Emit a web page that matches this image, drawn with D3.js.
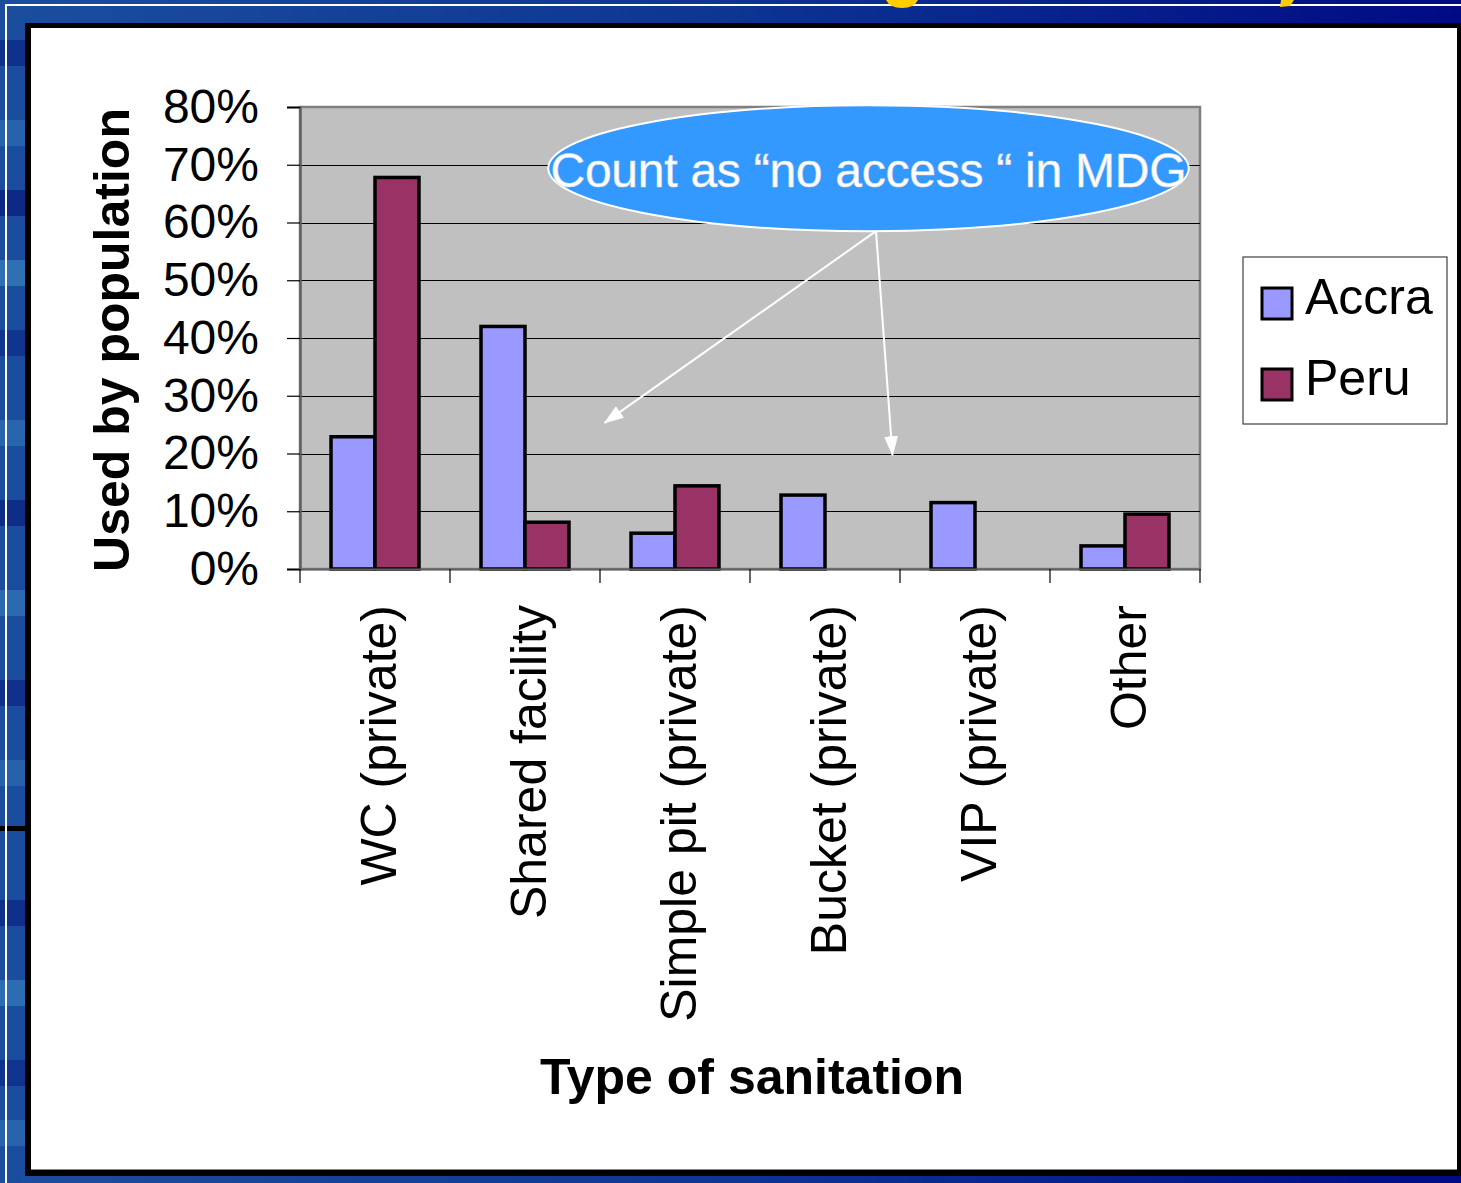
<!DOCTYPE html>
<html>
<head>
<meta charset="utf-8">
<script src="https://cdn.jsdelivr.net/npm/d3@7"></script>
<style>
  body { margin: 0; overflow: hidden; background: #0b2f8f; }
  text { font-family: "Liberation Sans", Arial, sans-serif; }
</style>
</head>
<body>
<script>
// data
var categories = ["WC (private)", "Shared facility", "Simple pit (private)", "Bucket (private)", "VIP (private)", "Other"];
var seriesNames = ["Accra", "Peru"];
var seriesColors = ["#9999FF", "#993366"];
var accra = [0.229, 0.42, 0.062, 0.128, 0.115, 0.04];
var peru = [0.678, 0.081, 0.144, 0, 0, 0.095];
var yTicks = [0, 0.1, 0.2, 0.3, 0.4, 0.5, 0.6, 0.7, 0.8];
var noteText = "Count as \u201Cno access \u201C in MDG";

var W = 1461, H = 1183;
var svg = d3.select(document.body).append("svg").attr("width", W).attr("height", H);

// background (slide)
var defs = svg.append("defs");
var bg = defs.append("linearGradient").attr("id", "bg").attr("x1", 0).attr("x2", 1).attr("y1", 0).attr("y2", 0);
bg.append("stop").attr("offset", 0).attr("stop-color", "#1b4d9e");
bg.append("stop").attr("offset", 0.5).attr("stop-color", "#0d3592");
bg.append("stop").attr("offset", 1).attr("stop-color", "#000a84");
svg.append("rect").attr("width", W).attr("height", H).attr("fill", "url(#bg)");

// streaks on the left strip
var streaks = [[40, "#0b2a8a"], [120, "#2a68b0"], [190, "#08207e"], [260, "#3379b8"], [330, "#0e2f8c"],
  [420, "#2c6cb2"], [500, "#0a2582"], [590, "#2f72b5"], [680, "#0c2b88"], [760, "#2a66ae"],
  [900, "#0b2986"], [980, "#3174b6"], [1060, "#0d2d8a"], [1120, "#2a6ab0"]];
svg.selectAll("rect.streak").data(streaks).enter().append("rect")
  .attr("class", "streak").attr("x", 0).attr("width", 25)
  .attr("y", function(d) { return d[0]; }).attr("height", 26)
  .attr("fill", function(d) { return d[1]; }).attr("opacity", 0.8);
svg.append("rect").attr("x", 0).attr("y", 826).attr("width", 25).attr("height", 5).attr("fill", "#000");

// thin white line of the slide
svg.append("rect").attr("x", 5).attr("y", 4).attr("width", W).attr("height", 2).attr("fill", "#fff");
svg.append("rect").attr("x", 5).attr("y", 4).attr("width", 2).attr("height", H).attr("fill", "#fff");

// bits of the cut off yellow title
svg.append("path").attr("d", "M886,0 Q890,8 902,8 Q914,8 918,0 Z").attr("fill", "#FFCC00");
svg.append("path").attr("d", "M1281,0 L1294,0 L1290,6 L1280,7 Z").attr("fill", "#FFCC00");

// white panel with black frame
svg.append("rect").attr("x", 25).attr("y", 23).attr("width", W - 25).attr("height", 1153).attr("fill", "#000");
svg.append("rect").attr("x", 31).attr("y", 28).attr("width", 1426).attr("height", 1141).attr("fill", "#fff");
svg.append("line").attr("x1", 31).attr("x2", 1457).attr("y1", 1169.5).attr("y2", 1169.5).attr("stroke", "#888").attr("stroke-width", 1);

// chart
var plotL = 300, plotR = 1200, plotT = 107, plotB = 569;

var x = d3.scaleBand().domain(categories).range([plotL, plotR]).paddingInner(0).paddingOuter(0);
var x1 = d3.scaleBand().domain(seriesNames).range([0, x.bandwidth()]).paddingInner(0).paddingOuter(0.705);
var y = d3.scaleLinear().domain([0, 0.8]).range([plotB, plotT]);
var xi = d3.scaleLinear().domain([0, categories.length]).range([plotL, plotR]);

// plot area
svg.append("rect").attr("x", plotL).attr("y", plotT).attr("width", plotR - plotL).attr("height", plotB - plotT)
  .attr("fill", "#C0C0C0").attr("stroke", "#808080").attr("stroke-width", 2.5);

// gridlines
svg.append("g").selectAll("line").data(yTicks.filter(function(d) { return d > 0 && d < 0.8; }))
  .enter().append("line")
  .attr("x1", plotL).attr("x2", plotR)
  .attr("y1", function(d) { return Math.round(y(d)) + 0.5; })
  .attr("y2", function(d) { return Math.round(y(d)) + 0.5; })
  .attr("stroke", "#000").attr("stroke-width", 1.2);

// bars
var rows = categories.map(function(c, i) { return { cat: c, values: [accra[i], peru[i]] }; });
var groups = svg.append("g").selectAll("g").data(rows).enter().append("g")
  .attr("transform", function(d) { return "translate(" + x(d.cat) + ",0)"; });
groups.selectAll("rect").data(function(d) {
    return d.values.map(function(v, j) { return { name: seriesNames[j], value: v, color: seriesColors[j] }; })
      .filter(function(e) { return e.value > 0; });
  })
  .enter().append("rect")
  .attr("x", function(d) { return x1(d.name); })
  .attr("width", x1.bandwidth())
  .attr("y", function(d) { return y(d.value); })
  .attr("height", function(d) { return y(0) - y(d.value); })
  .attr("fill", function(d) { return d.color; })
  .attr("stroke", "#000").attr("stroke-width", 3.5);

// y axis
var yAxis = svg.append("g").attr("transform", "translate(" + plotL + ",0)")
  .call(d3.axisLeft(y).tickValues(yTicks).tickFormat(d3.format(".0%")).tickSize(13).tickPadding(28));
yAxis.select(".domain").attr("stroke", "#606060").attr("stroke-width", 2.5);
yAxis.selectAll(".tick line").attr("stroke", "#000").attr("stroke-width", 1.2);
yAxis.selectAll("text").attr("font-size", 48).attr("fill", "#000")
  .style("font-family", "'Liberation Sans', Arial, sans-serif");

// x axis
var xAxis = svg.append("g").attr("transform", "translate(0," + plotB + ")")
  .call(d3.axisBottom(x).tickSize(0));
xAxis.select(".domain").attr("stroke", "#606060").attr("stroke-width", 2);
xAxis.selectAll("text")
  .attr("transform", "rotate(-90)")
  .attr("x", -36).attr("y", 3).attr("dy", "0.36em")
  .attr("text-anchor", "end")
  .attr("font-size", 50).attr("fill", "#000")
  .style("font-family", "'Liberation Sans', Arial, sans-serif");
var bounds = categories.map(function(c) { return x(c); }).concat([plotR]);
svg.append("g").selectAll("line").data(bounds).enter().append("line")
  .attr("x1", function(d) { return d; }).attr("x2", function(d) { return d; })
  .attr("y1", plotB).attr("y2", plotB + 14)
  .attr("stroke", "#000").attr("stroke-width", 1.2);

// axis titles
svg.append("text").attr("x", 752).attr("y", 1094).attr("text-anchor", "middle")
  .attr("font-size", 50).attr("font-weight", "bold").text("Type of sanitation");
svg.append("text").attr("transform", "translate(111,340) rotate(-90)").attr("dy", "0.36em")
  .attr("text-anchor", "middle").attr("font-size", 50).attr("font-weight", "bold").text("Used by population");

// legend
var legend = svg.append("g").attr("transform", "translate(1243,257)");
legend.append("rect").attr("width", 204).attr("height", 167).attr("fill", "#fff")
  .attr("stroke", "#404040").attr("stroke-width", 1.2);
var li = legend.selectAll("g").data(seriesNames).enter().append("g")
  .attr("transform", function(d, i) { return "translate(0," + (i * 81) + ")"; });
li.append("rect").attr("x", 19).attr("y", 31).attr("width", 30).attr("height", 31)
  .attr("fill", function(d, i) { return seriesColors[i]; }).attr("stroke", "#000").attr("stroke-width", 3);
li.append("text").attr("x", 62).attr("y", 57).attr("font-size", 50).text(function(d) { return d; });

// annotation: ellipse and arrows
var note = { cx: 3.79, cy: 0.694, rx: 2.135, ry: 0.109 };
var arrowFrom = { i: 3.84, v: 0.585 };
var arrowTo = [{ i: 2.03, v: 0.253 }, { i: 3.95, v: 0.197 }];

defs.append("marker").attr("id", "head").attr("markerUnits", "userSpaceOnUse")
  .attr("viewBox", "0 -8 20 16").attr("refX", 19).attr("refY", 0)
  .attr("markerWidth", 20).attr("markerHeight", 16).attr("orient", "auto")
  .append("path").attr("d", "M0,-7L20,0L0,7Z").attr("fill", "#fff");

svg.append("ellipse")
  .attr("cx", xi(note.cx)).attr("cy", y(note.cy))
  .attr("rx", xi(note.rx) - xi(0)).attr("ry", y(0) - y(note.ry))
  .attr("fill", "#3399FF").attr("stroke", "#fff").attr("stroke-width", 2);

svg.append("text").attr("x", xi(note.cx)).attr("y", y(note.cy) + 19)
  .attr("text-anchor", "middle").attr("font-size", 48).attr("fill", "#fff")
  .attr("stroke", "#dddddd").attr("stroke-width", 0.6)
  .attr("textLength", 636).attr("lengthAdjust", "spacing").text(noteText);

svg.append("g").selectAll("line").data(arrowTo).enter().append("line")
  .attr("x1", xi(arrowFrom.i)).attr("y1", y(arrowFrom.v))
  .attr("x2", function(d) { return xi(d.i); }).attr("y2", function(d) { return y(d.v); })
  .attr("stroke", "#fff").attr("stroke-width", 2).attr("marker-end", "url(#head)");
</script>
</body>
</html>
